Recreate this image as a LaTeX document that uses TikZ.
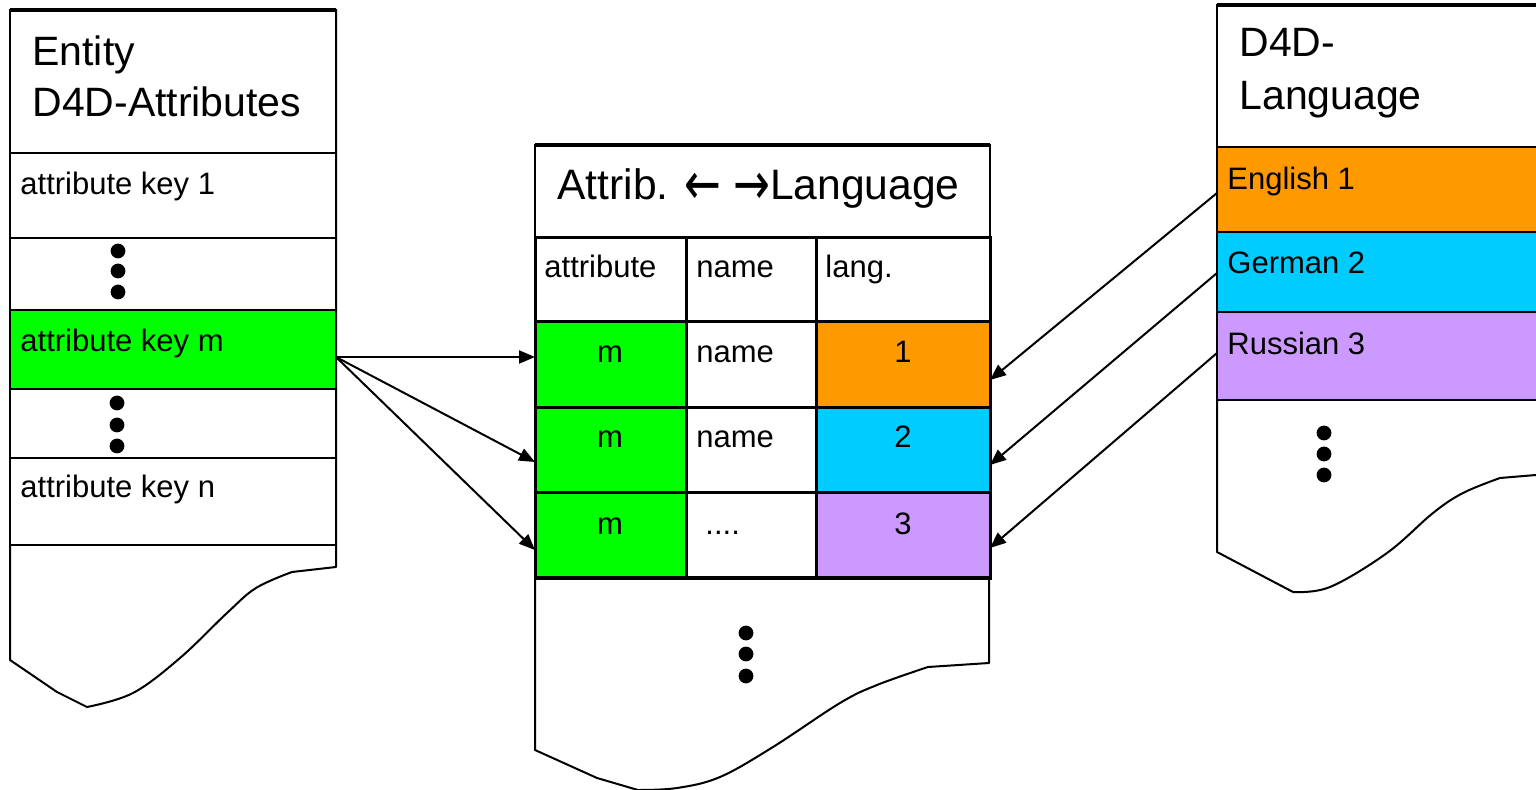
\documentclass[tikz,border=0pt]{standalone}
\usepackage{fontspec}
\setmainfont{Liberation Sans}
\newfontfamily\arrowfont{DejaVu Sans}
\usetikzlibrary{arrows.meta}
\definecolor{cgreen}{HTML}{00FF00}
\definecolor{corange}{HTML}{FF9900}
\definecolor{ccyan}{HTML}{00CCFF}
\definecolor{cpurple}{HTML}{CC99FF}
\newcommand\mkcell[7][]{%
  \pgfmathsetmacro\cellw{(#5-#3)*0.5}\pgfmathsetmacro\cellh{(#6-#4)*0.5}%
  \node[cellbase,#1,fill=#7,minimum width=\cellw pt,minimum height=\cellh pt] (#2) at (#3,#4) {};}
\newcommand\arw[1]{{\arrowfont\fontsize{22pt}{25pt}\selectfont\raisebox{-2.2pt}{\scalebox{1}[1.35]{#1}}}}
\tikzset{
  cellbase/.style={draw, anchor=north west, inner sep=0pt, outer sep=0pt, line width=1pt},
  tablecell/.style={line width=1.5pt},
  outline/.style={draw, fill=white, line width=1pt, line join=round},
  txt/.style={anchor=base west, inner sep=0pt, font=\fontsize{15.5pt}{18pt}\selectfont},
  ctxt/.style={anchor=base, inner sep=0pt, font=\fontsize{15.5pt}{18pt}\selectfont},
  ttl/.style={anchor=north west, inner sep=0pt, align=left, font=\fontsize{20.5pt}{25.5pt}\selectfont},
  arr/.style={line width=1pt, -{Triangle[length=8pt,width=6.5pt]}},
  topline/.style={line width=2pt},
}
\begin{document}
\begin{tikzpicture}[x=0.5pt,y=-0.5pt]
\useasboundingbox[fill=white] (0,0) rectangle (1536,790);
\clip (0,0) rectangle (1536,790);

% ---------- left box ----------
\path[outline] (10,10) -- (10,660) -- (57,692) -- (87,707)
  -- plot[smooth,tension=0.6] coordinates {(87,707) (133,693) (180,658) (227,613) (256,588) (292,572)}
  -- (336,567) -- (336,10) -- cycle;
\mkcell{ltitle}{10}{10}{336}{153}{white}
\mkcell{lk1}{10}{153}{336}{238}{white}
\mkcell{ld1}{10}{238}{336}{310}{white}
\mkcell{lkm}{10}{310}{336}{389}{cgreen}
\mkcell{ld2}{10}{389}{336}{458}{white}
\mkcell{lkn}{10}{458}{336}{545}{white}
\draw[topline] (ltitle.north west) -- (ltitle.north east);
\node[ttl] (lttl) at (32,35) {Entity\\D4D-Attributes};
\node[txt] (tk1) at (20,195) {attribute key 1};
\node[txt] (tkm) at (20,352) {attribute key m};
\node[txt] (tkn) at (20,498) {attribute key n};
\foreach \y in {251,271,292} \fill (118,\y) circle[radius=3.7pt];
\foreach \y in {403,425,446} \fill (117,\y) circle[radius=3.7pt];

% ---------- middle box ----------
\path[outline] (535,145) -- (535,750) -- (597,778) -- (638,790)
  -- plot[smooth,tension=0.6] coordinates {(638,790) (677,788) (720,777) (773,747) (840,703) (877,685) (928,667)}
  -- (989,663) -- (989,145) -- cycle;
\mkcell{mtitle}{535}{145}{990}{238}{white}
\draw[topline] (mtitle.north west) -- (mtitle.north east);
\mkcell[tablecell]{hattr}{535}{238}{686}{322}{white}
\mkcell[tablecell]{hname}{686}{238}{816}{322}{white}
\mkcell[tablecell]{hlang}{816}{238}{990}{322}{white}
\mkcell[tablecell]{ma1}{535}{322}{686}{408}{cgreen}
\mkcell[tablecell]{mn1}{686}{322}{816}{408}{white}
\mkcell[tablecell]{ml1}{816}{322}{990}{408}{corange}
\mkcell[tablecell]{ma2}{535}{408}{686}{493}{cgreen}
\mkcell[tablecell]{mn2}{686}{408}{816}{493}{white}
\mkcell[tablecell]{ml2}{816}{408}{990}{493}{ccyan}
\mkcell[tablecell]{ma3}{535}{493}{686}{578}{cgreen}
\mkcell[tablecell]{mn3}{686}{493}{816}{578}{white}
\mkcell[tablecell]{ml3}{816}{493}{990}{578}{cpurple}
\node[txt,font=\fontsize{21.3pt}{25pt}\selectfont] (mttl) at (557,200) {Attrib. \arw{←} \arw{→}Language};
\node[txt] (thattr) at (544,278) {attribute};
\node[txt] (thname) at (696,278) {name};
\node[txt] (thlang) at (825,278) {lang.};
\node[ctxt] (tm1) at (610,363) {m};
\node[ctxt] (tm2) at (610,448) {m};
\node[ctxt] (tm3) at (610,535) {m};
\node[txt] (tn1) at (696,363) {name};
\node[txt] (tn2) at (696,448) {name};
\node[txt] (tn3) at (705,535) {....};
\node[ctxt] (tl1) at (903,363) {1};
\node[ctxt] (tl2) at (903,448) {2};
\node[ctxt] (tl3) at (903,535) {3};
\foreach \y in {633,654,676} \fill (746,\y) circle[radius=3.7pt];

% ---------- right box ----------
\path[outline] (1217,5) -- (1217,552) -- (1293,592)
  -- plot[smooth,tension=0.6] coordinates {(1293,592) (1330,587) (1387,553) (1433,513) (1463,493) (1500,478)}
  -- (1560,473) -- (1560,5) -- cycle;
\mkcell{rtitle}{1217}{5}{1560}{147}{white}
\draw[topline] (rtitle.north west) -- (rtitle.north east);
\mkcell[line width=1.3pt]{ren}{1217}{147}{1560}{232}{corange}
\mkcell[line width=1.3pt]{rde}{1217}{232}{1560}{312}{ccyan}
\mkcell[line width=1.3pt]{rru}{1217}{312}{1560}{400}{cpurple}
\node[ttl,font=\fontsize{20.5pt}{26.5pt}\selectfont] (rttl) at (1239,28) {D4D-\\Language};
\node[txt] (ten) at (1227,190) {English 1};
\node[txt] (tde) at (1227,274) {German 2};
\node[txt] (tru) at (1227,355) {Russian 3};
\foreach \y in {433,454,475} \fill (1324,\y) circle[radius=3.7pt];

% ---------- connectors ----------
\draw[arr] ([yshift=-3.75pt]lkm.east) -- ([yshift=4pt]ma1.west);
\draw[arr] ([yshift=-3.75pt]lkm.east) -- ([yshift=-5.75pt]ma2.west);
\draw[arr] ([yshift=-3.75pt]lkm.east) -- ([yshift=-7.25pt]ma3.west);
\draw[arr] ([yshift=-1.75pt]ren.west) -- ([yshift=-7.5pt]ml1.east);
\draw[arr] ([yshift=-0.5pt]rde.west) -- ([yshift=-7.25pt]ml2.east);
\draw[arr] ([yshift=1.5pt]rru.west) -- ([yshift=-6.25pt]ml3.east);
\end{tikzpicture}
\end{document}
